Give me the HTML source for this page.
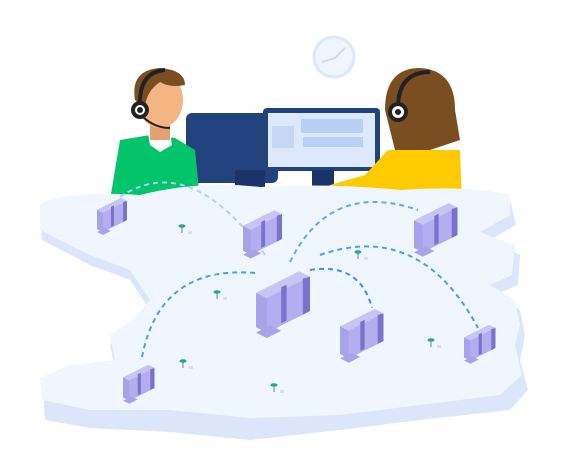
<!DOCTYPE html>
<html><head><style>body{margin:0;background:#fff}svg{display:block}</style></head><body>
<svg width="570" height="470" viewBox="0 0 570 470" xmlns="http://www.w3.org/2000/svg">
<defs>
<g id="b">
<polygon points="0,10 24,-2 30,1 30,20 6,32 0,29" fill="#a8a2e8"/>
<polygon points="0,10 24,-2 30,1 6,13" fill="#c8c4f5"/>
<polygon points="6,13 30,1 30,20 6,32" fill="#b4aef0"/>
<rect x="14" y="6" width="3" height="20" fill="#7a72cc" transform="skewY(-27) translate(0,8)"/>
<polygon points="26,2 30,1 30,20 26,22" fill="#7a72cc"/>
<polygon points="0,32 8,28 14,31 6,35" fill="#a8a2e8"/>
</g>
<g id="t"><line x1="0" y1="0" x2="0" y2="7" stroke="#8a7a6a" stroke-width="1"/><ellipse cx="0" cy="0" rx="3.5" ry="1.8" fill="#1fa89a"/><rect x="6" y="5" width="4" height="3" fill="#dde"/></g>
</defs>
<circle cx="334" cy="57" r="20" fill="#f0f6fe" stroke="#dce8fb" stroke-width="3"/>
<path d="M322 62 L335 58 L345 48" stroke="#c9dcf8" stroke-width="2" fill="none"/>
<rect x="186" y="113" width="92" height="70" rx="6" fill="#22427e"/>
<rect x="235" y="170" width="30" height="22" fill="#1a3368"/>
<rect x="263" y="108" width="117" height="63" rx="4" fill="#22427e"/>
<rect x="268" y="113" width="107" height="54" fill="#dce8fb"/>
<rect x="272" y="126" width="22" height="22" fill="#c4d7f5"/>
<rect x="301" y="119" width="62" height="14" fill="#b8d0f4"/>
<rect x="303" y="137" width="60" height="10" fill="#b8d0f4"/>
<rect x="312" y="170" width="22" height="28" fill="#1a3368"/>
<path d="M120 140 L150 135 L175 138 L195 150 L200 200 L110 200 Z" fill="#04c46a"/>
<path d="M148 133 L170 133 L172 145 L160 152 L150 145 Z" fill="#fff"/>
<rect x="150" y="110" width="20" height="30" fill="#e4a170"/>
<ellipse cx="160" cy="100" rx="23" ry="28" fill="#f2b583"/>
<path d="M135 100 Q130 70 160 68 Q185 70 185 85 Q170 88 160 82 Q145 92 145 110 Z" fill="#7a4e20"/>
<path d="M140 108 Q138 72 165 70" stroke="#222" stroke-width="4" fill="none"/>
<circle cx="140" cy="110" r="9" fill="#222"/><circle cx="140" cy="110" r="5" fill="#fff"/><circle cx="140" cy="110" r="3" fill="#222"/>
<path d="M143 117 Q155 128 170 128" stroke="#222" stroke-width="2" fill="none"/>
<path d="M388 150 L460 150 L462 200 L320 200 L330 185 L365 175 Z" fill="#fecb00"/>
<path d="M385 110 Q385 68 420 68 Q455 70 455 110 L460 140 L430 150 L395 150 Z" fill="#7a4e20"/>
<path d="M398 108 Q398 72 430 72" stroke="#222" stroke-width="4" fill="none"/>
<circle cx="398" cy="112" r="10" fill="#222"/><circle cx="398" cy="112" r="6" fill="#fff"/><circle cx="398" cy="112" r="3" fill="#222"/>
<path d="M40 212 Q60 195 140 200 Q200 185 260 192 Q330 188 400 195 Q470 190 510 200 L516 225 L490 240 L520 255 L518 285 L495 295 L520 310 L525 335 L520 360 L528 390 L510 410 L420 420 L340 430 L250 440 L170 432 L90 428 L45 420 L42 380 L70 375 L115 370 L110 345 L135 330 L150 310 L130 280 L90 265 L42 240 Z" fill="#dbe6fb"/>
<path d="M40 205 Q60 190 140 195 Q200 180 260 187 Q330 183 400 190 Q470 185 510 195 L510 215 L480 232 L515 245 L512 275 L490 285 L515 300 L520 325 L515 345 L522 375 L500 395 L420 405 L340 415 L250 418 L170 410 L90 410 L42 400 L40 378 L70 365 L115 360 L110 335 L135 318 L150 300 L130 270 L90 255 L40 230 Z" fill="#f0f6fe"/>
<g fill="none" stroke-dasharray="5 4" stroke-width="2">
<path d="M120 197 Q190 150 265 255" stroke="#a8d4fa"/>
<path d="M290 262 Q330 180 418 210" stroke="#5aaaf4"/>
<path d="M142 357 Q160 265 255 273" stroke="#4a9ef4"/>
<path d="M310 270 Q360 262 372 308" stroke="#3a90f2"/>
<path d="M320 255 Q420 220 478 328" stroke="#4a9ef4"/>
</g>
<use href="#t" x="182" y="226"/><use href="#t" x="358" y="252"/><use href="#t" x="217" y="292"/>
<use href="#t" x="183" y="361"/><use href="#t" x="431" y="340"/><use href="#t" x="274" y="385"/>
<use href="#b" transform="translate(97,200) scale(1)"/>
<use href="#b" transform="translate(243,213) scale(1.3)"/>
<use href="#b" transform="translate(414,206) scale(1.45)"/>
<use href="#b" transform="translate(256,275) scale(1.8)"/>
<use href="#b" transform="translate(340,312) scale(1.45)"/>
<use href="#b" transform="translate(464,327) scale(1.05)"/>
<use href="#b" transform="translate(123,367) scale(1.05)"/>
</svg>
</body></html>
